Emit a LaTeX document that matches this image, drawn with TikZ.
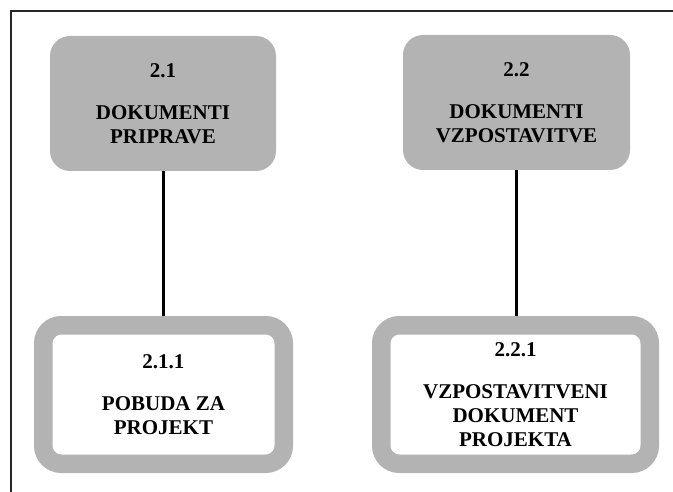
\documentclass[tikz,border=0pt]{standalone}
\usepackage{fontspec}
\setmainfont{Liberation Serif}
\usepackage{tikz}
\usetikzlibrary{positioning}
\definecolor{boxgray}{RGB}{179,179,179}

\begin{document}
\begin{tikzpicture}[x=1pt, y=-1pt,
  topbox/.style={fill=boxgray, rounded corners=20pt, minimum width=226pt,
    minimum height=135pt, inner sep=0pt, align=center,
    font=\fontsize{21}{24}\selectfont\bfseries},
  subbox/.style={draw=boxgray, fill=white, line width=18.5pt,
    rounded corners=18pt, minimum height=138.5pt, inner sep=0pt,
    align=center, font=\fontsize{21}{24}\selectfont\bfseries},
  link/.style={line width=3pt}]

\useasboundingbox (0,0) rectangle (673,492);

% Frame
\draw[line width=1.8pt, black!85] (673,11) -- (11,11) -- (11,492);

% Top row
\node[topbox] (prip) at (163,103.5) {2.1\\[18pt]DOKUMENTI\\PRIPRAVE};
\node[topbox, minimum width=227pt] (vzpo) at (516.5,102.5)
  {2.2\\[18pt]DOKUMENTI\\VZPOSTAVITVE};

% Bottom row
\node[subbox, minimum width=240.5pt] (pobuda) at (163.5,394.5)
  {2.1.1\\[18pt]POBUDA ZA\\PROJEKT};
\node[subbox, minimum width=268.5pt] (vzdok) at (515.5,394.5)
  {2.2.1\\[18pt]VZPOSTAVITVENI\\DOKUMENT\\PROJEKTA};

% Links
\draw[link] (prip.south) -- (prip.south |- pobuda.north);
\draw[link] (vzpo.south) -- (vzpo.south |- vzdok.north);

\end{tikzpicture}
\end{document}
